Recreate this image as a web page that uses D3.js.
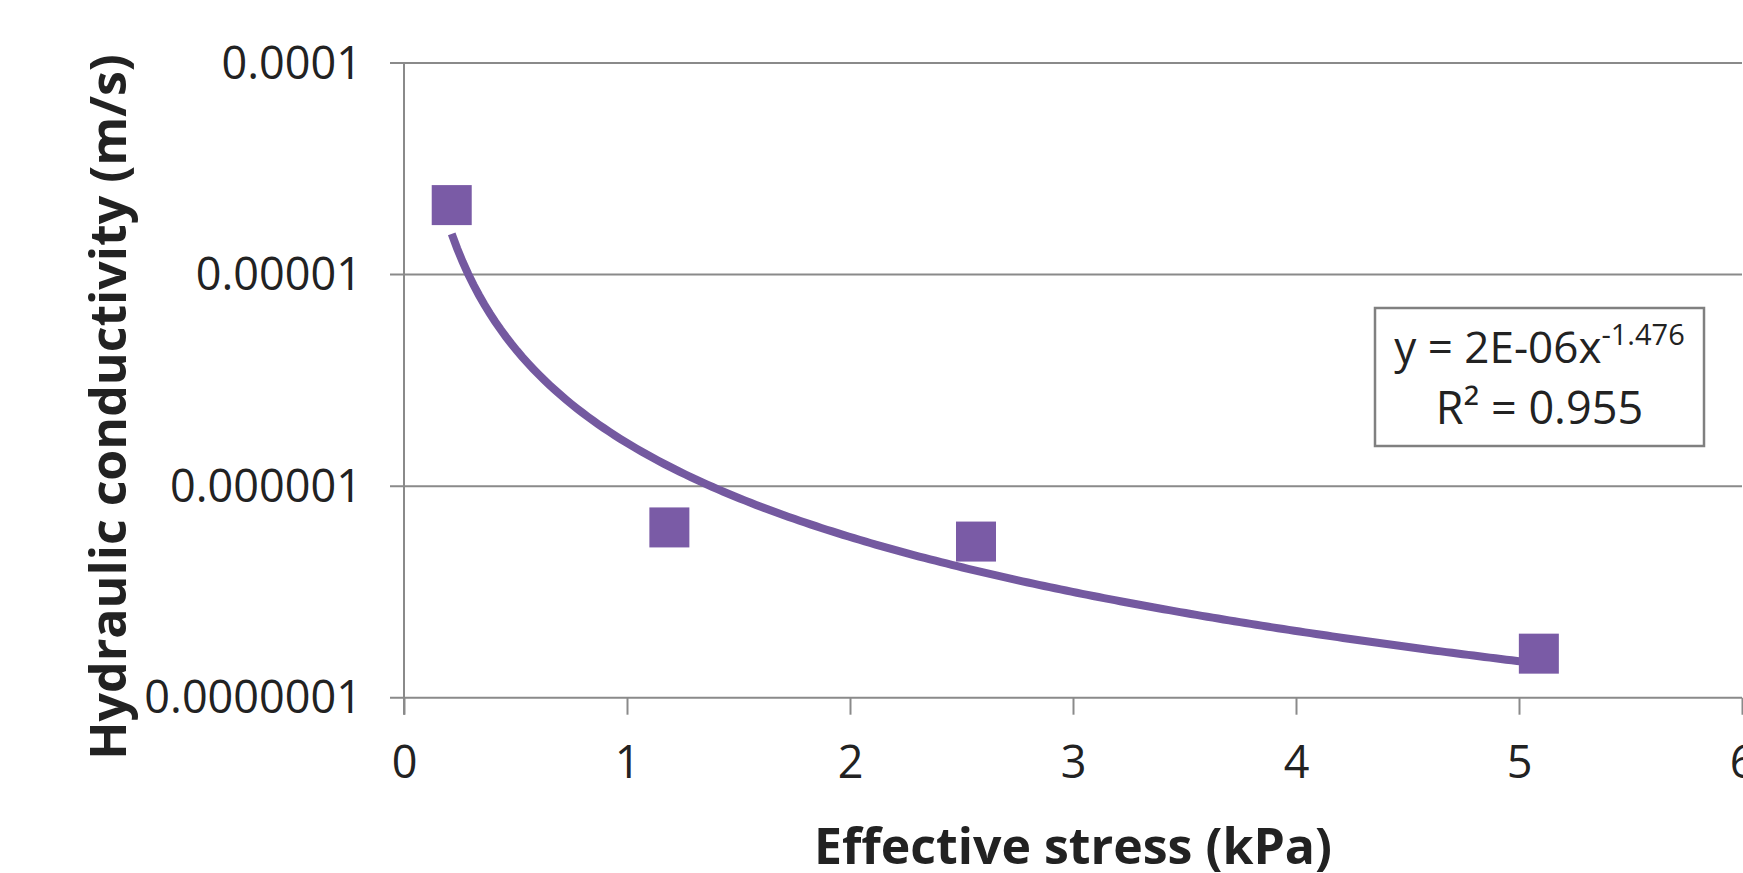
<!DOCTYPE html>
<html>
<head>
<meta charset="utf-8">
<script src="https://cdn.jsdelivr.net/npm/d3@7"></script>
<style>
  html, body { margin: 0; padding: 0; background: #ffffff; }
  svg { display: block; }
  text { font-family: "Open Sans", "Liberation Sans", sans-serif; fill: #222222; }
</style>
</head>
<body>
<svg id="chart" width="1743" height="873"></svg>
<script>
// Measured points: effective stress (kPa) vs hydraulic conductivity (m/s)
const stressKPa = [0.214, 1.19, 2.565, 5.089];
const conductivity = [2.13e-5, 6.38e-7, 5.47e-7, 1.615e-7];

// Power-law trendline y = a * x^b and its fit quality
const trendA = 1.6e-6;
const trendB = -1.476;
const trendR2 = 0.955;

// Axis ticks
const xTicks = [0, 1, 2, 3, 4, 5, 6];
const yTicks = [1e-7, 1e-6, 1e-5, 1e-4];
const yTickLabels = ["0.0000001", "0.000001", "0.00001", "0.0001"];

const xTitle = "Effective stress (kPa)";
const yTitle = "Hydraulic conductivity (m/s)";

const W = 1743, H = 873;
const plot = { left: 404, right: 1742, top: 63, bottom: 697.7 };
const purple = "#7a5ba6";
const gridColor = "#8a8a8a";
const tickFont = "45px";

const svg = d3.select("#chart");
svg.append("rect").attr("width", W).attr("height", H).attr("fill", "#ffffff");

const x = d3.scaleLinear().domain([0, 6]).range([plot.left, plot.right]);
const y = d3.scaleLog().domain([1e-7, 1e-4]).range([plot.bottom, plot.top]);

// Horizontal gridlines, extending left past the axis as tick marks
svg.append("g").selectAll("line")
  .data(yTicks)
  .join("line")
  .attr("x1", plot.left - 14)
  .attr("x2", plot.right)
  .attr("y1", d => y(d))
  .attr("y2", d => y(d))
  .attr("stroke", gridColor)
  .attr("stroke-width", 2);

// Y axis line (runs down past the x axis as the first x tick)
svg.append("line")
  .attr("x1", plot.left).attr("x2", plot.left)
  .attr("y1", plot.top).attr("y2", plot.bottom + 17)
  .attr("stroke", gridColor).attr("stroke-width", 2);

// X axis ticks and labels
const xAxis = d3.axisBottom(x)
  .tickValues(xTicks)
  .tickSize(17)
  .tickPadding(0)
  .tickFormat(d3.format("d"));
const gx = svg.append("g")
  .attr("transform", `translate(0,${plot.bottom})`)
  .call(xAxis);
gx.select(".domain").remove();
gx.selectAll(".tick line").attr("stroke", gridColor).attr("stroke-width", 2);
gx.selectAll(".tick text")
  .attr("y", 80)
  .attr("dy", null)
  .attr("fill", "#222222")
  .style("font-family", "'Open Sans', sans-serif")
  .style("font-size", tickFont);

// Y tick labels
svg.append("g").selectAll("text")
  .data(yTicks)
  .join("text")
  .attr("x", 362)
  .attr("y", d => y(d))
  .attr("dy", "0.35em")
  .attr("text-anchor", "end")
  .style("font-size", tickFont)
  .text((d, i) => yTickLabels[i]);

// Trendline over the range of the measurements
const xMin = d3.min(stressKPa), xMax = d3.max(stressKPa);
const trendPts = d3.range(0, 201).map(i => {
  const xv = xMin + (xMax - xMin) * i / 200;
  return [xv, trendA * Math.pow(xv, trendB)];
});
svg.append("path")
  .datum(trendPts)
  .attr("fill", "none")
  .attr("stroke", "#7459a0")
  .attr("stroke-width", 8)
  .attr("stroke-linecap", "butt")
  .attr("d", d3.line().x(d => x(d[0])).y(d => y(d[1])));

// Square markers
const mk = 40;
svg.append("g").selectAll("rect")
  .data(stressKPa.map((s, i) => [s, conductivity[i]]))
  .join("rect")
  .attr("x", d => x(d[0]) - mk / 2)
  .attr("y", d => y(d[1]) - mk / 2)
  .attr("width", mk)
  .attr("height", mk)
  .attr("fill", purple);

// Trendline equation box
const box = { x: 1375, y: 308, w: 329, h: 138 };
svg.append("rect")
  .attr("x", box.x).attr("y", box.y)
  .attr("width", box.w).attr("height", box.h)
  .attr("fill", "#ffffff")
  .attr("stroke", "#808080")
  .attr("stroke-width", 2.5);

const coefText = trendA.toExponential(0).toUpperCase().replace(/E([+-])(\d)$/, "E$10$2");
const eq = svg.append("text")
  .attr("x", box.x + box.w / 2)
  .attr("y", 363)
  .attr("text-anchor", "middle")
  .style("font-size", "44px");
eq.append("tspan").text(`y = ${coefText}x`);
eq.append("tspan")
  .attr("dy", -18)
  .style("font-size", "29px")
  .text(trendB.toFixed(3));

svg.append("text")
  .attr("x", box.x + box.w / 2)
  .attr("y", 424)
  .attr("text-anchor", "middle")
  .style("font-size", "45px")
  .text(`R² = ${trendR2.toFixed(3)}`);

// Axis titles
svg.append("text")
  .attr("x", (plot.left + plot.right) / 2)
  .attr("y", 864)
  .attr("text-anchor", "middle")
  .style("font-size", "50px")
  .style("font-weight", "bold")
  .text(xTitle);

svg.append("text")
  .attr("transform", "translate(126,407) rotate(-90)")
  .attr("text-anchor", "middle")
  .style("font-size", "50px")
  .style("font-weight", "bold")
  .text(yTitle);
</script>
</body>
</html>
